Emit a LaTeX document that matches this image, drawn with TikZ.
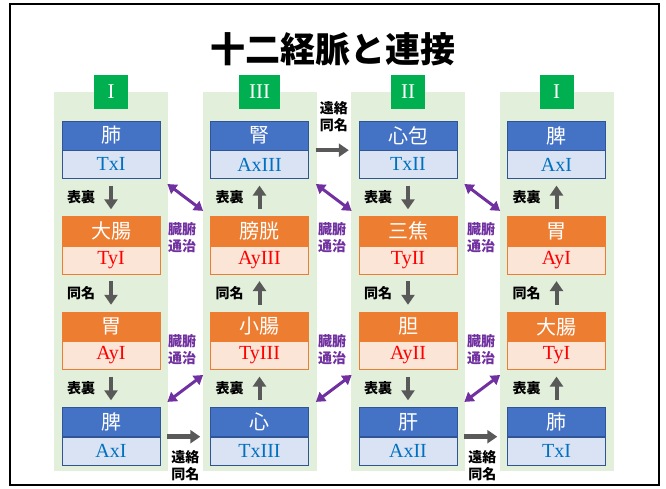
\documentclass[tikz,border=0pt]{standalone}
\usepackage{fontspec}
\setmainfont{Liberation Serif}
\newfontfamily\jp{Noto Sans CJK JP}
\usetikzlibrary{positioning, arrows.meta}

\definecolor{bggreen}{HTML}{E2EFDA}
\definecolor{lblgreen}{HTML}{00B050}
\definecolor{yinblue}{HTML}{4472C4}
\definecolor{yinpale}{HTML}{DAE3F3}
\definecolor{yinline}{HTML}{2F5597}
\definecolor{yintext}{HTML}{0070C0}
\definecolor{yangorange}{HTML}{ED7D31}
\definecolor{yangpale}{HTML}{FBE5D6}
\definecolor{yangtext}{HTML}{FF0000}
\definecolor{arrgray}{HTML}{595959}
\definecolor{tongpurple}{HTML}{7030A0}

\begin{document}
\begin{tikzpicture}[x=1pt, y=-1pt,
    colbg/.style={fill=bggreen, minimum width=114pt, minimum height=379pt, inner sep=0},
    numlbl/.style={fill=lblgreen, text=white, font=\fontsize{21}{21}\selectfont,
        minimum width=34pt, minimum height=34pt, inner xsep=10pt, inner ysep=0},
    yinup/.style={draw=yinline, fill=yinblue, text=white, font=\jp\fontsize{20}{20}\selectfont,
        minimum width=98pt, minimum height=29pt, inner sep=0},
    yinlow/.style={draw=yinline, fill=yinpale, text=yintext, font=\fontsize{20}{20}\selectfont,
        minimum width=98pt, minimum height=28pt, inner sep=0},
    yangup/.style={draw=yangorange, fill=yangorange, text=white, font=\jp\fontsize{20}{20}\selectfont,
        minimum width=98pt, minimum height=29pt, inner sep=0},
    yanglow/.style={draw=yangorange, fill=yangpale, text=yangtext, font=\fontsize{20}{20}\selectfont,
        minimum width=98pt, minimum height=28pt, inner sep=0},
    garrow/.style={draw=arrgray, line width=4pt, -{Triangle[length=10pt,width=13pt]},
        shorten <=7pt, shorten >=7pt},
    harrow/.style={draw=arrgray, line width=4.5pt, -{Triangle[length=10pt,width=13pt]},
        shorten <=7pt, shorten >=10pt},
    parrow/.style={draw=tongpurple, line width=3pt,
        {Triangle[length=9pt,width=11pt]}-{Triangle[length=9pt,width=11pt]},
        shorten <=9pt, shorten >=9pt},
    rel/.style={font=\jp\bfseries\fontsize{14}{17}\selectfont, inner sep=0, align=center},
    tong/.style={rel, text=tongpurple}]
    \useasboundingbox (0,0) rectangle (666,488);
    \draw[line width=2pt] (10,4) rectangle (659,485);
    \node[font=\jp\bfseries\fontsize{35}{35}\selectfont] (title) at (333,49) {十二経脈と連接};

    % columns
    \node[colbg] (col1) at (111,281.5) {};
    \node[colbg] (col2) at (259.5,281.5) {};
    \node[colbg] (col3) at (408,281.5) {};
    \node[colbg] (col4) at (556.5,281.5) {};
    \node[numlbl] (n1) at (col1.north) {I};
    \node[numlbl] (n2) at (col2.north) {III};
    \node[numlbl] (n3) at (col3.north) {II};
    \node[numlbl] (n4) at (col4.north) {I};

    % organ boxes
    \node[yinup] (lu1) at (111,135.5) {肺};
    \node[yinlow, below=0pt of lu1] (lu1x) {TxI};
    \node[yangup] (li1) at (111,231) {大腸};
    \node[yanglow, below=0pt of li1] (li1x) {TyI};
    \node[yangup] (st1) at (111,326.5) {胃};
    \node[yanglow, below=0pt of st1] (st1x) {AyI};
    \node[yinup] (sp1) at (111,422) {脾};
    \node[yinlow, below=0pt of sp1] (sp1x) {AxI};

    \node[yinup] (ki) at (259.5,135.5) {腎};
    \node[yinlow, below=0pt of ki] (kix) {AxIII};
    \node[yangup] (bl) at (259.5,231) {膀胱};
    \node[yanglow, below=0pt of bl] (blx) {AyIII};
    \node[yangup] (si) at (259.5,326.5) {小腸};
    \node[yanglow, below=0pt of si] (six) {TyIII};
    \node[yinup] (ht) at (259.5,422) {心};
    \node[yinlow, below=0pt of ht] (htx) {TxIII};

    \node[yinup] (pc) at (408,135.5) {心包};
    \node[yinlow, below=0pt of pc] (pcx) {TxII};
    \node[yangup] (te) at (408,231) {三焦};
    \node[yanglow, below=0pt of te] (tex) {TyII};
    \node[yangup] (gb) at (408,326.5) {胆};
    \node[yanglow, below=0pt of gb] (gbx) {AyII};
    \node[yinup] (lr) at (408,422) {肝};
    \node[yinlow, below=0pt of lr] (lrx) {AxII};

    \node[yinup] (sp2) at (556.5,135.5) {脾};
    \node[yinlow, below=0pt of sp2] (sp2x) {AxI};
    \node[yangup] (st2) at (556.5,231) {胃};
    \node[yanglow, below=0pt of st2] (st2x) {AyI};
    \node[yangup] (li2) at (556.5,326.5) {大腸};
    \node[yanglow, below=0pt of li2] (li2x) {TyI};
    \node[yinup] (lu2) at (556.5,422) {肺};
    \node[yinlow, below=0pt of lu2] (lu2x) {TxI};

    % vertical links
    \draw[garrow] (lu1x) -- (li1) node[rel, midway, left=14pt] (r11) {表裏};
    \draw[garrow] (li1x) -- (st1) node[rel, midway, left=14pt] (r12) {同名};
    \draw[garrow] (st1x) -- (sp1) node[rel, midway, left=14pt] (r13) {表裏};
    \draw[garrow] (bl) -- (kix) node[rel, midway, left=14pt] (r21) {表裏};
    \draw[garrow] (si) -- (blx) node[rel, midway, left=14pt] (r22) {同名};
    \draw[garrow] (ht) -- (six) node[rel, midway, left=14pt] (r23) {表裏};
    \draw[garrow] (pcx) -- (te) node[rel, midway, left=14pt] (r31) {表裏};
    \draw[garrow] (tex) -- (gb) node[rel, midway, left=14pt] (r32) {同名};
    \draw[garrow] (gbx) -- (lr) node[rel, midway, left=14pt] (r33) {表裏};
    \draw[garrow] (st2) -- (sp2x) node[rel, midway, left=14pt] (r41) {表裏};
    \draw[garrow] (li2) -- (st2x) node[rel, midway, left=14pt] (r42) {同名};
    \draw[garrow] (lu2) -- (li2x) node[rel, midway, left=14pt] (r43) {表裏};

    % horizontal links
    \draw[harrow] (sp1.south east) -- (ht.south west) node[rel, midway, below=12pt] (e1) {遠絡\\同名};
    \draw[harrow] (ki.south east) -- (pc.south west) node[rel, midway, above=16pt] (e2) {遠絡\\同名};
    \draw[harrow] (lr.south east) -- (lu2.south west) node[rel, midway, below=12pt] (e3) {遠絡\\同名};

    % zang-fu links
    \draw[parrow] (lu1x.south east) -- (bl.north west);
    \draw[parrow] (sp1.north east) -- (six.south west);
    \draw[parrow] (kix.south east) -- (te.north west);
    \draw[parrow] (ht.north east) -- (gbx.south west);
    \draw[parrow] (pcx.south east) -- (st2.north west);
    \draw[parrow] (lr.north east) -- (li2x.south west);
    \node[tong] (t1) at (182,238) {臓腑\\通治};
    \node[tong] (t2) at (332,238) {臓腑\\通治};
    \node[tong] (t3) at (481,238) {臓腑\\通治};
    \node[tong] (t4) at (182,350) {臓腑\\通治};
    \node[tong] (t5) at (332,350) {臓腑\\通治};
    \node[tong] (t6) at (481,350) {臓腑\\通治};
\end{tikzpicture}
\end{document}
